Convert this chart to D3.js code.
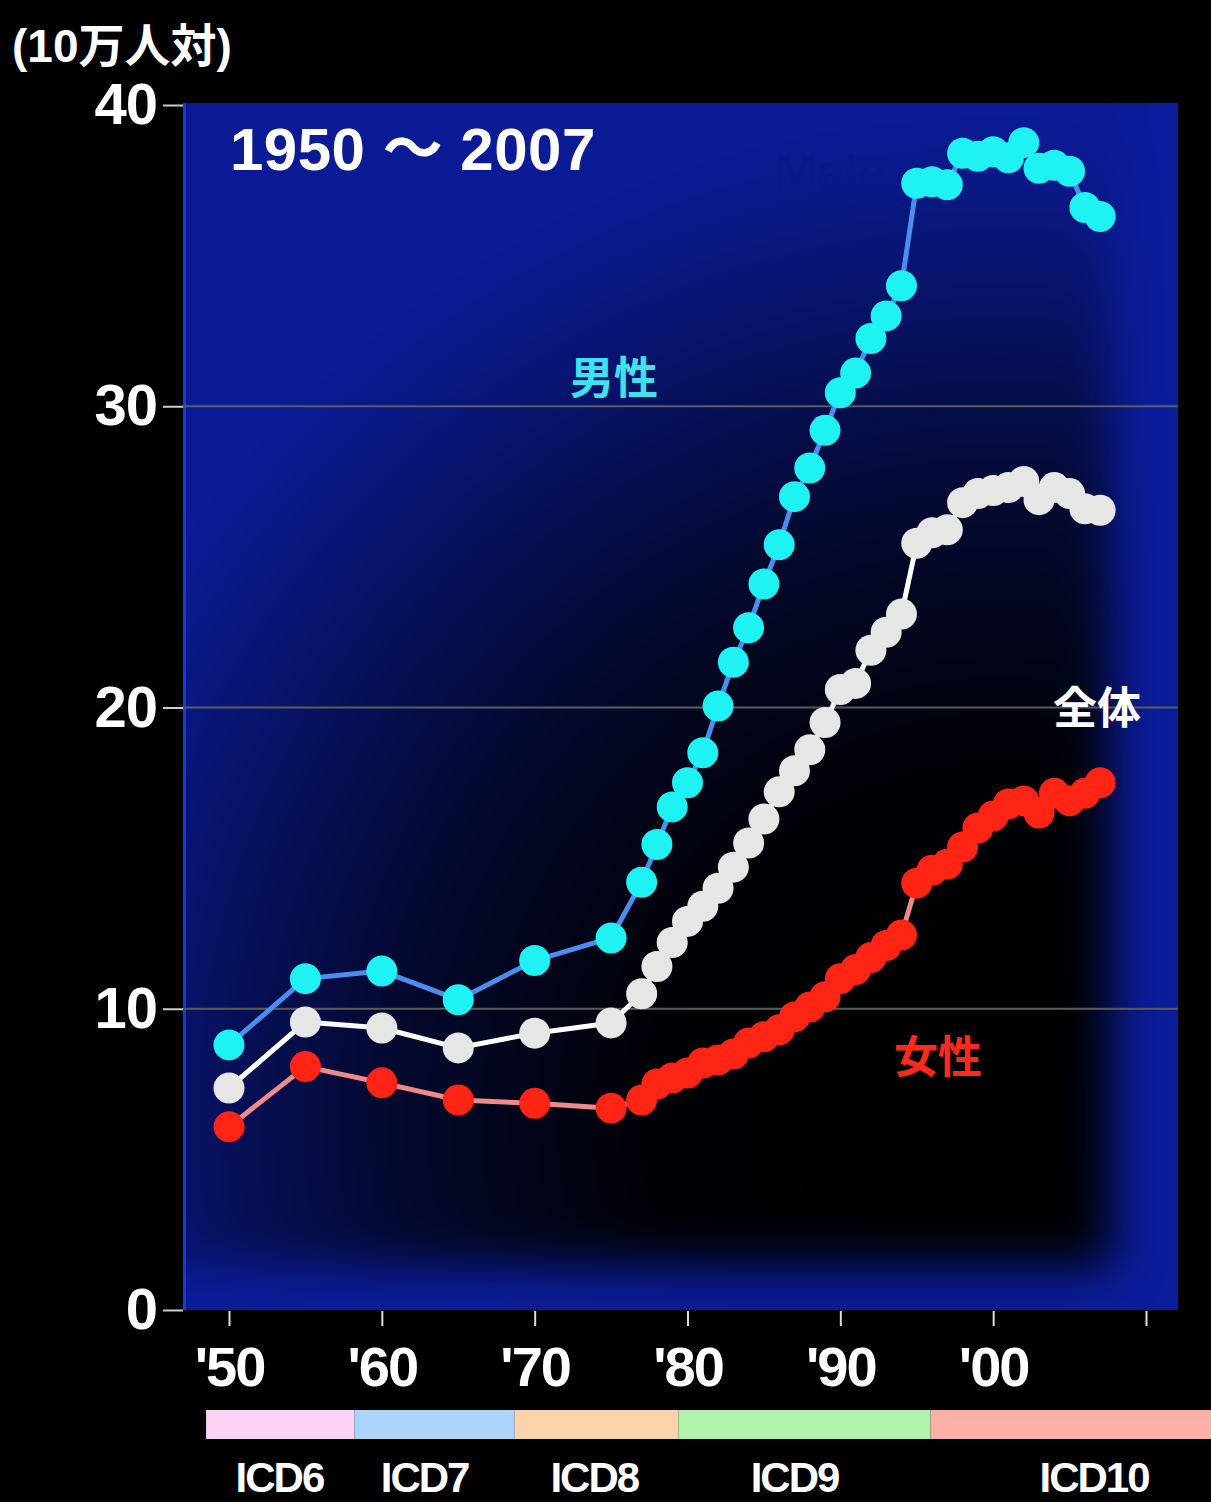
<!DOCTYPE html>
<html>
<head>
<meta charset="utf-8">
<script src="https://cdn.jsdelivr.net/npm/d3@7"></script>
<style>
  body { margin: 0; background: #000; }
  text { font-family: "Liberation Sans", "Noto Sans CJK JP", sans-serif; font-weight: bold; }
  .cjk { font-family: "Noto Sans CJK JP", sans-serif; }
</style>
</head>
<body>
<div id="chart"></div>
<script>
// data (rate per 100,000)
const years = [1950, 1955, 1960, 1965, 1970, 1975,
  1977, 1978, 1979, 1980, 1981, 1982, 1983, 1984, 1985, 1986, 1987, 1988, 1989,
  1990, 1991, 1992, 1993, 1994, 1995, 1996, 1997, 1998, 1999,
  2000, 2001, 2002, 2003, 2004, 2005, 2006, 2007]
const male = [8.8, 11.0, 11.25, 10.3, 11.6, 12.35,
  14.2, 15.45, 16.7, 17.5, 18.5, 20.05, 21.5, 22.65, 24.1, 25.4, 27.0, 27.95, 29.2,
  30.45, 31.1, 32.25, 33.0, 34.0, 37.4, 37.45, 37.35, 38.4, 38.3,
  38.45, 38.25, 38.75, 37.9, 38.0, 37.8, 36.6, 36.3]
const total = [7.37, 9.56, 9.36, 8.7, 9.19, 9.53,
  10.5, 11.4, 12.2, 12.9, 13.4, 14.0, 14.7, 15.5, 16.3, 17.2, 17.9, 18.6, 19.5,
  20.6, 20.8, 21.9, 22.5, 23.1, 25.45, 25.8, 25.9, 26.8, 27.1,
  27.2, 27.3, 27.5, 26.9, 27.3, 27.1, 26.6, 26.55]
const female = [6.08, 8.08, 7.54, 6.97, 6.86, 6.7,
  6.97, 7.5, 7.7, 7.87, 8.2, 8.3, 8.5, 8.86, 9.07, 9.3, 9.73, 10.06, 10.4,
  11.0, 11.3, 11.7, 12.1, 12.45, 14.17, 14.6, 14.8, 15.37, 16.0,
  16.4, 16.8, 16.9, 16.5, 17.15, 16.9, 17.15, 17.5]

const xTicks = [1950, 1960, 1970, 1980, 1990, 2000, 2010]
const xTickLabels = ["'50", "'60", "'70", "'80", "'90", "'00", ""]
const yTicks = [0, 10, 20, 30, 40]

const icdNames = ["ICD6", "ICD7", "ICD8", "ICD9", "ICD10"]
const icdBounds = [1948.5, 1958.2, 1968.7, 1979.4, 1995.9, 2016]
const icdLabelYears = [1953.3, 1962.8, 1973.9, 1987.0, 2006.6]
const icdColors = ["#fcd2f5", "#acd3fa", "#fdd3ac", "#b1f3ab", "#fbb1a8"]

const width = 1211, height = 1502
const plot = {left: 183, right: 1178, top: 103, bottom: 1310}

const x = d3.scaleLinear().domain([1950, 2010]).range([229, 1146])
const y = d3.scaleLinear().domain([0, 40]).range([1310, 105])

const svg = d3.select("#chart").append("svg")
  .attr("width", width).attr("height", height)
  .style("display", "block")

svg.append("rect").attr("width", width).attr("height", height).attr("fill", "#000")

const defs = svg.append("defs")
defs.append("clipPath").attr("id", "plotclip")
  .append("rect")
  .attr("x", plot.left).attr("y", plot.top)
  .attr("width", plot.right - plot.left).attr("height", plot.bottom - plot.top)

let shade = defs.append("radialGradient").attr("id", "shade")
  .attr("gradientUnits", "userSpaceOnUse")
  .attr("cx", 1000).attr("cy", 1120).attr("r", 1000)
shade.append("stop").attr("offset", 0).attr("stop-color", "#000").attr("stop-opacity", 1)
shade.append("stop").attr("offset", 0.35).attr("stop-color", "#000").attr("stop-opacity", 0.97)
shade.append("stop").attr("offset", 0.6).attr("stop-color", "#000").attr("stop-opacity", 0.72)
shade.append("stop").attr("offset", 0.8).attr("stop-color", "#000").attr("stop-opacity", 0.38)
shade.append("stop").attr("offset", 1).attr("stop-color", "#000").attr("stop-opacity", 0.04)

defs.append("filter").attr("id", "soft")
  .attr("x", "-20%").attr("y", "-20%").attr("width", "140%").attr("height", "140%")
  .append("feGaussianBlur").attr("stdDeviation", 24)

// plot background
const bg = svg.append("g").attr("clip-path", "url(#plotclip)")
bg.append("rect")
  .attr("x", plot.left).attr("y", plot.top)
  .attr("width", plot.right - plot.left).attr("height", plot.bottom - plot.top)
  .attr("fill", "#0b1c9c")
bg.append("rect")
  .attr("x", 150).attr("y", 60)
  .attr("width", 1112 - 150).attr("height", 1268 - 60)
  .attr("fill", "url(#shade)")
  .attr("filter", "url(#soft)")
bg.append("line")
  .attr("x1", plot.left + 1.5).attr("x2", plot.left + 1.5)
  .attr("y1", plot.top).attr("y2", plot.bottom)
  .attr("stroke", "#1838d8").attr("stroke-width", 3)

// faint leftover word in the background
svg.append("text")
  .attr("x", 775).attr("y", 190)
  .attr("font-size", 50)
  .attr("fill", "#0a1788")
  .text("Male")

// grid
svg.append("g")
  .selectAll("line")
  .data(yTicks.filter(d => d > 0 && d < 40))
  .join("line")
  .attr("x1", plot.left).attr("x2", plot.right)
  .attr("y1", d => y(d)).attr("y2", d => y(d))
  .attr("stroke", "#5c5c5c").attr("stroke-width", 2)

// y axis
let yAxis = g => g
  .attr("transform", `translate(${plot.left},0)`)
  .call(d3.axisLeft(y).tickValues(yTicks).tickSize(20).tickPadding(6))
  .call(g => g.select(".domain").remove())
  .call(g => g.selectAll(".tick line").attr("stroke", "#ccc").attr("stroke-width", 2))
  .call(g => g.selectAll(".tick text")
    .attr("fill", "#fff")
    .attr("font-size", 58)
    .attr("letter-spacing", -1)
    .attr("font-family", "Liberation Sans")
    .attr("font-weight", "bold"))
svg.append("g").call(yAxis)

// x axis
let xAxis = g => g
  .attr("transform", `translate(0,${plot.bottom + 1})`)
  .call(d3.axisBottom(x).tickValues(xTicks).tickSize(15).tickPadding(20)
    .tickFormat((d, i) => xTickLabels[i]))
  .call(g => g.select(".domain").remove())
  .call(g => g.selectAll(".tick line").attr("stroke", "#ddd").attr("stroke-width", 2))
  .call(g => g.selectAll(".tick text")
    .attr("fill", "#fff")
    .attr("font-size", 56)
    .attr("letter-spacing", -2)
    .attr("font-family", "Liberation Sans")
    .attr("font-weight", "bold"))
svg.append("g").call(xAxis)

// titles
svg.append("text")
  .attr("x", 12).attr("y", 62)
  .attr("font-size", 46)
  .attr("fill", "#fff")
  .attr("letter-spacing", 0)
  .text("(10万人対)")

svg.append("text")
  .attr("x", 230).attr("y", 170)
  .attr("font-size", 60)
  .attr("fill", "#fff")
  .attr("letter-spacing", 0.5)
  .text("1950 〜 2007")

// series
const series = [
  {name: "女性", values: female, line: "#ef8a8a", dot: "#ff2414", lx: 938, ly: 1073, lc: "#ff2a1a"},
  {name: "全体", values: total, line: "#ffffff", dot: "#e6e6e4", lx: 1097, ly: 724, lc: "#ffffff"},
  {name: "男性", values: male, line: "#4a8ff0", dot: "#1ff2f2", lx: 614, ly: 394, lc: "#3fe2ea"}
]

let line = d3.line()
  .x((d, i) => x(years[i]))
  .y(d => y(d))

series.forEach(s => {
  svg.append("path")
    .datum(s.values)
    .attr("fill", "none")
    .attr("stroke", s.line)
    .attr("stroke-width", 5)
    .attr("stroke-linejoin", "round")
    .attr("d", line)

  svg.append("g")
    .selectAll("circle")
    .data(s.values)
    .join("circle")
    .attr("cx", (d, i) => x(years[i]))
    .attr("cy", d => y(d))
    .attr("r", 15.5)
    .attr("fill", s.dot)

  svg.append("text")
    .attr("class", "cjk")
    .attr("x", s.lx).attr("y", s.ly)
    .attr("text-anchor", "middle")
    .attr("font-size", 44)
    .attr("fill", s.lc)
    .text(s.name)
})

// ICD revision strip
const icd = icdNames.map((n, i) => ({name: n, start: icdBounds[i], end: icdBounds[i + 1], color: icdColors[i], at: icdLabelYears[i]}))

svg.append("g")
  .selectAll("rect")
  .data(icd)
  .join("rect")
  .attr("x", d => x(d.start))
  .attr("width", d => x(d.end) - x(d.start))
  .attr("y", 1410).attr("height", 29)
  .attr("fill", d => d.color)

svg.append("g")
  .selectAll("text")
  .data(icd)
  .join("text")
  .attr("x", d => x(d.at))
  .attr("y", 1492)
  .attr("text-anchor", "middle")
  .attr("font-size", 42)
  .attr("letter-spacing", -2)
  .attr("fill", "#fff")
  .text(d => d.name)
</script>
</body>
</html>
